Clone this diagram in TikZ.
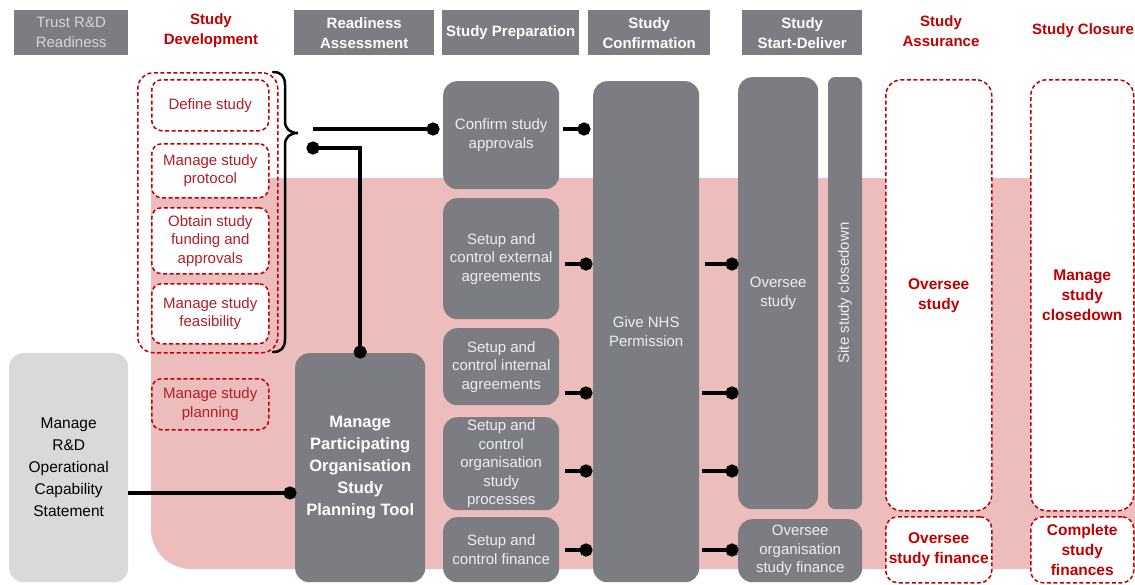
\documentclass[tikz,border=0pt]{standalone}
\usepackage{fontspec}
\setmainfont{Liberation Sans}
\usetikzlibrary{arrows.meta,calc}

\definecolor{boxgray}{RGB}{123,125,131}
\definecolor{lightbox}{RGB}{217,217,217}
\definecolor{bandpink}{RGB}{237,189,190}
\definecolor{dred}{RGB}{192,0,0}
\definecolor{txtred}{RGB}{178,30,38}
\definecolor{paletxt}{RGB}{238,238,240}
\definecolor{hdrtxt}{RGB}{214,214,216}

\begin{document}
\begin{tikzpicture}[x=1pt,y=-1pt,
  every node/.style={inner sep=0pt, align=center},
  hdrbox/.style={fill=boxgray, text=white, anchor=north west,
    font=\fontsize{15}{20}\selectfont\bfseries},
  hdrred/.style={text=dred, font=\fontsize{15}{20}\selectfont\bfseries},
  gbox/.style={fill=boxgray, rounded corners=14pt, text=paletxt, anchor=north west,
    font=\fontsize{15}{18.5}\selectfont},
  rbox/.style={draw=dred, line width=1.5pt, dash pattern=on 4pt off 2.5pt,
    rounded corners=10pt, text=txtred, anchor=north west,
    font=\fontsize{15}{18.5}\selectfont},
  rbig/.style={rbox, fill=white, rounded corners=16pt, text=dred,
    font=\fontsize{15.5}{20}\selectfont\bfseries},
  conn/.style={line width=4pt, -{Circle[length=13pt,width=13pt]}},
  conn2/.style={line width=4pt, {Circle[length=13pt,width=13pt]}-{Circle[length=13pt,width=13pt]}}
]
\useasboundingbox (0,0) rectangle (1135,584);
\clip (0,0) rectangle (1135,584);
\fill[white] (0,0) rectangle (1135,584);

% pink band behind the operational stages
\fill[bandpink] (151,178) -- (1135,178) -- (1135,569) -- (191,569)
  .. controls (169,569) and (151,551) .. (151,529) -- cycle;

% column headers
\node[hdrbox, text=hdrtxt, font=\fontsize{15}{20}\selectfont,
  minimum width=114pt, minimum height=45pt] (h1) at (14,10) {Trust R\&D\\Readiness};
\node[hdrred] (h2) at (211,31) {Study\\Development};
\node[hdrbox, minimum width=140pt, minimum height=45pt] (h3) at (294,10) {Readiness\\Assessment};
\node[hdrbox, minimum width=137pt, minimum height=45pt] (h4) at (442,10) {Study Preparation};
\node[hdrbox, minimum width=122pt, minimum height=45pt] (h5) at (588,10) {Study\\Confirmation};
\node[hdrbox, minimum width=120pt, minimum height=45pt] (h6) at (742,10) {Study\\Start-Deliver};
\node[hdrred] (h7) at (941,31) {Study\\Assurance};
\node[hdrred] (h8) at (1083,31) {Study Closure};

% study development group
\node[rbox, rounded corners=16pt, minimum width=140pt, minimum height=280pt] (devgrp) at (137,72) {};
\node[rbox, fill=white, minimum width=117pt, minimum height=51pt] (define) at (151,79) {Define study};
\node[rbox, fill=white, minimum width=117pt, minimum height=54pt] (protocol) at (151,143) {Manage study\\protocol};
\node[rbox, fill=white, minimum width=117pt, minimum height=66pt] (funding) at (151,207) {Obtain study\\funding and\\approvals};
\node[rbox, fill=white, minimum width=117pt, minimum height=60pt] (feas) at (151,283) {Manage study\\feasibility};
\node[rbox, minimum width=117pt, minimum height=51pt] (planning) at (151,378) {Manage study\\planning};

% brace gathering the development tasks
\draw[line width=2.5pt, line cap=round]
  (273,72) .. controls (281,72) and (285,76) .. (285,85) -- (285,121)
  .. controls (285,129) and (290,133) .. (298,133)
  .. controls (290,133) and (285,137) .. (285,145) -- (285,339)
  .. controls (285,348) and (281,352) .. (273,352);

% readiness
\node[fill=lightbox, rounded corners=14pt, anchor=north west, text=black,
  font=\fontsize{15.5}{22}\selectfont, minimum width=119pt, minimum height=229pt] (rd) at (9,353)
  {Manage\\R\&D\\Operational\\Capability\\Statement};
\node[gbox, text=white, font=\fontsize{16.5}{22}\selectfont\bfseries,
  minimum width=130pt, minimum height=229pt] (tool) at (295,353)
  {Manage\\Participating\\Organisation\\Study\\Planning Tool};

% preparation
\node[gbox, minimum width=116pt, minimum height=108pt] (confirm) at (443,81) {Confirm study\\approvals};
\node[gbox, minimum width=116pt, minimum height=121pt] (ext) at (443,198) {Setup and\\control external\\agreements};
\node[gbox, minimum width=116pt, minimum height=77pt] (int) at (443,328) {Setup and\\control internal\\agreements};
\node[gbox, minimum width=116pt, minimum height=93pt] (org) at (443,417) {Setup and\\control\\organisation\\study\\processes};
\node[gbox, minimum width=116pt, minimum height=65pt] (fin) at (443,517) {Setup and\\control finance};

% confirmation
\node[gbox, minimum width=106pt, minimum height=501pt] (give) at (593,81) {Give NHS\\Permission};

% start-deliver
\node[gbox, minimum width=80pt, minimum height=432pt] (oversee) at (738,77) {Oversee\\study};
\node[gbox, anchor=center, rounded corners=7pt, rotate=90,
  minimum width=432pt, minimum height=34pt] (site) at (845,293) {Site study closedown};
\node[gbox, minimum width=124pt, minimum height=63pt] (ofin) at (738,519) {Oversee\\organisation\\study finance};

% assurance and closure
\node[rbig, minimum width=106pt, minimum height=431pt] (assure) at (885,79) {Oversee\\study};
\node[rbig, minimum width=103pt, minimum height=431pt] (closedown) at (1030,79) {Manage\\study\\closedown};
\node[rbig, rounded corners=12pt, minimum width=106pt, minimum height=66pt] (afin) at (885,516) {Oversee\\study finance};
\node[rbig, rounded corners=12pt, minimum width=103pt, minimum height=66pt] (complete) at (1030,516) {Complete\\study\\finances};

% levels of the connectors
\coordinate (yA) at (0,129);
\coordinate (yB) at (0,148);
\coordinate (yC) at (0,264);
\coordinate (yD) at (0,393);
\coordinate (yE) at (0,471);
\coordinate (yF) at (0,550);
\coordinate (yG) at (0,493);
\coordinate (braceout) at (313,129);
\coordinate (braceback) at (306.5,148);

% connectors
\draw[conn] (braceout) -- ($(confirm.west |- yA)+(-3.5,0)$);
\draw[conn2] (braceback) -| ($(tool.north)+(0,5.5)$);
\draw[conn] (rd.east |- yG) -- ($(tool.west |- yG)+(1.5,0)$);

\draw[conn] ($(confirm.east |- yA)+(4,0)$) -- ($(give.west |- yA)+(-2.5,0)$);
\draw[conn] ($(ext.east |- yC)+(6,0)$) -- ($(give.west |- yC)+(-0.5,0)$);
\draw[conn] ($(int.east |- yD)+(6,0)$) -- ($(give.west |- yD)+(-0.5,0)$);
\draw[conn] ($(org.east |- yE)+(6,0)$) -- ($(give.west |- yE)+(-0.5,0)$);
\draw[conn] ($(fin.east |- yF)+(6,0)$) -- ($(give.west |- yF)+(-0.5,0)$);

\draw[conn] ($(give.east |- yC)+(6,0)$) -- ($(oversee.west |- yC)+(0.5,0)$);
\draw[conn] ($(give.east |- yD)+(3,0)$) -- ($(oversee.west |- yD)+(0.5,0)$);
\draw[conn] ($(give.east |- yE)+(3,0)$) -- ($(oversee.west |- yE)+(0.5,0)$);
\draw[conn] ($(give.east |- yF)+(3,0)$) -- ($(ofin.west |- yF)+(0.5,0)$);
\end{tikzpicture}
\end{document}
